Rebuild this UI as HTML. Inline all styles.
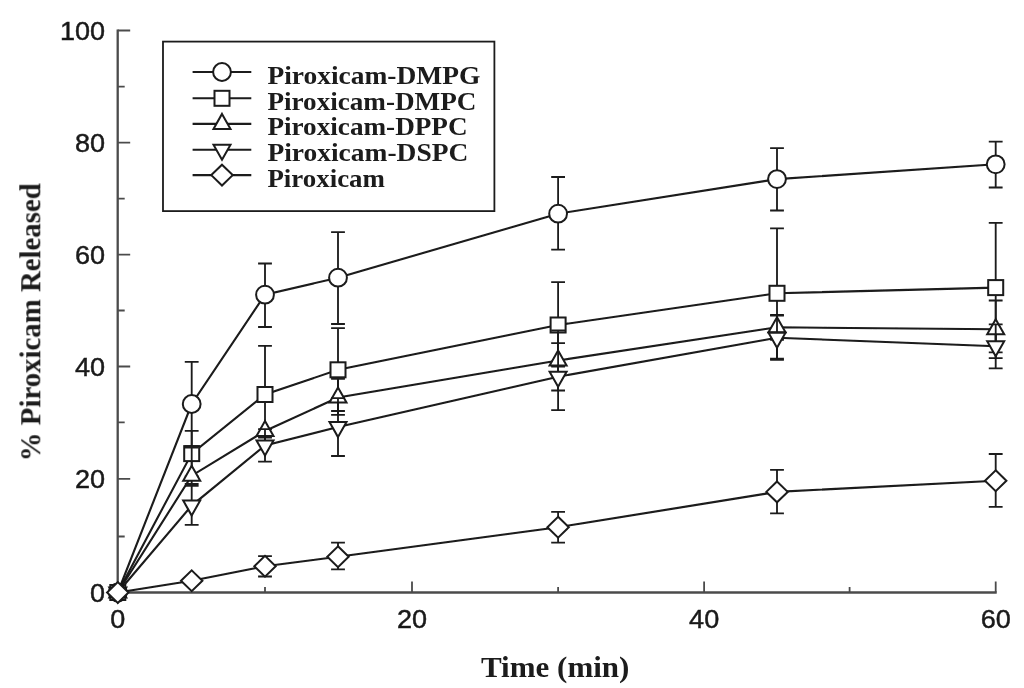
<!DOCTYPE html>
<html lang="en">
<head>
<meta charset="utf-8">
<title>Piroxicam release</title>
<style>
html,body{margin:0;padding:0;background:#fff;}
body{width:1024px;height:688px;overflow:hidden;}
svg{display:block;}
</style>
</head>
<body>
<svg width="1024" height="688" viewBox="0 0 1024 688">
<defs><filter id="scan" x="-2%" y="-2%" width="104%" height="104%"><feGaussianBlur stdDeviation="0.7"/></filter></defs>
<rect x="0" y="0" width="1024" height="688" fill="#ffffff"/>
<g filter="url(#scan)">
<g id="chart" fill="none" stroke="#1a1a1a" stroke-width="1.6" stroke-linecap="butt" stroke-linejoin="miter">
<path d="M117.7 29.5 V592.5 H996.7" stroke-width="2.3" stroke="#4c4c4c"/>
<path d="M117.7 536.5 h7 M117.7 478.8 h12.5 M117.7 422.4 h7 M117.7 366.5 h12.5 M117.7 310.5 h7 M117.7 254.6 h12.5 M117.7 198.6 h7 M117.7 142.7 h12.5 M117.7 86.6 h7 M117.7 30.5 h12.5 " stroke-width="1.8" stroke="#4c4c4c"/>
<path d="M265.0 592.5 v-5.5 M412.0 592.5 v-11 M558.1 592.5 v-5.5 M704.1 592.5 v-11 M849.6 592.5 v-5.5 M995.7 592.5 v-11 " stroke-width="1.8" stroke="#4c4c4c"/>
<g class="s-circle">
<polyline points="117.8,592.5 191.7,404.0 265.0,294.7 338.0,277.7 558.1,213.7 777.0,179.1 995.7,164.3" stroke-width="2.1"/>
<path d="M191.7 361.9 V446.5 M184.8 361.9 h13.8 M184.8 446.5 h13.8 M265.0 263.5 V327.0 M258.1 263.5 h13.8 M258.1 327.0 h13.8 M338.0 232.1 V324.0 M331.1 232.1 h13.8 M331.1 324.0 h13.8 M558.1 177.0 V249.6 M551.2 177.0 h13.8 M551.2 249.6 h13.8 M777.0 148.1 V210.5 M770.1 148.1 h13.8 M770.1 210.5 h13.8 M995.7 141.6 V187.5 M988.8 141.6 h13.8 M988.8 187.5 h13.8 " stroke-width="1.8"/>
<g fill="#ffffff" stroke-width="2.0">
<ellipse cx="117.8" cy="592.5" rx="8.9" ry="8.9"/>
<ellipse cx="191.7" cy="404.0" rx="8.9" ry="8.9"/>
<ellipse cx="265.0" cy="294.7" rx="8.9" ry="8.9"/>
<ellipse cx="338.0" cy="277.7" rx="8.9" ry="8.9"/>
<ellipse cx="558.1" cy="213.7" rx="8.9" ry="8.9"/>
<ellipse cx="777.0" cy="179.1" rx="8.9" ry="8.9"/>
<ellipse cx="995.7" cy="164.3" rx="8.9" ry="8.9"/>
</g></g>
<g class="s-square">
<polyline points="117.8,592.5 191.7,453.6 265.0,394.5 338.0,369.8 558.1,325.0 777.0,293.3 995.7,287.6" stroke-width="2.1"/>
<path d="M191.7 430.9 V476.3 M184.8 430.9 h13.8 M184.8 476.3 h13.8 M265.0 345.8 V443.6 M258.1 345.8 h13.8 M258.1 443.6 h13.8 M338.0 328.2 V411.0 M331.1 328.2 h13.8 M331.1 411.0 h13.8 M558.1 282.1 V366.7 M551.2 282.1 h13.8 M551.2 366.7 h13.8 M777.0 228.3 V358.6 M770.1 228.3 h13.8 M770.1 358.6 h13.8 M995.7 222.8 V352.4 M988.8 222.8 h13.8 M988.8 352.4 h13.8 " stroke-width="1.8"/>
<g fill="#ffffff" stroke-width="2.0">
<rect x="110.3" y="585.0" width="15.00" height="15.0"/>
<rect x="184.2" y="446.1" width="15.00" height="15.0"/>
<rect x="257.5" y="387.0" width="15.00" height="15.0"/>
<rect x="330.5" y="362.3" width="15.00" height="15.0"/>
<rect x="550.6" y="317.5" width="15.00" height="15.0"/>
<rect x="769.5" y="285.8" width="15.00" height="15.0"/>
<rect x="988.2" y="280.1" width="15.00" height="15.0"/>
</g></g>
<g class="s-tri">
<polyline points="117.8,592.5 191.7,475.7 265.0,431.0 338.0,397.5 558.1,360.5 777.0,327.3 995.7,329.3" stroke-width="2.1"/>
<path d="M191.7 447.5 V484.0 M184.8 447.5 h13.8 M184.8 484.0 h13.8 M265.0 431.0 V437.6 M258.1 437.6 h13.8 M338.0 378.9 V414.8 M331.1 378.9 h13.8 M331.1 414.8 h13.8 M558.1 330.5 V390.5 M551.2 330.5 h13.8 M551.2 390.5 h13.8 M777.0 314.8 V339.8 M770.1 314.8 h13.8 M770.1 339.8 h13.8 M995.7 300.5 V358.2 M988.8 300.5 h13.8 M988.8 358.2 h13.8 " stroke-width="1.8"/>
<g fill="#ffffff" stroke-width="2.0">
<path d="M117.8 582.5 L126.3 597.5 H109.3 Z"/>
<path d="M191.7 465.7 L200.2 480.7 H183.2 Z"/>
<path d="M265.0 421.0 L273.5 436.0 H256.5 Z"/>
<path d="M338.0 387.5 L346.5 402.5 H329.5 Z"/>
<path d="M558.1 350.5 L566.6 365.5 H549.6 Z"/>
<path d="M777.0 317.3 L785.5 332.3 H768.5 Z"/>
<path d="M995.7 319.3 L1004.2 334.3 H987.2 Z"/>
</g></g>
<g class="s-inv">
<polyline points="117.8,592.5 191.7,505.6 265.0,445.4 338.0,427.1 558.1,376.7 777.0,337.7 995.7,346.3" stroke-width="2.1"/>
<path d="M191.7 485.9 V524.8 M184.8 485.9 h13.8 M184.8 524.8 h13.8 M265.0 429.2 V461.6 M258.1 429.2 h13.8 M258.1 461.6 h13.8 M338.0 398.2 V456.0 M331.1 398.2 h13.8 M331.1 456.0 h13.8 M558.1 343.2 V410.2 M551.2 343.2 h13.8 M551.2 410.2 h13.8 M777.0 315.6 V359.8 M770.1 315.6 h13.8 M770.1 359.8 h13.8 M995.7 324.3 V368.4 M988.8 324.3 h13.8 M988.8 368.4 h13.8 " stroke-width="1.8"/>
<g fill="#ffffff" stroke-width="2.0">
<path d="M117.8 602.5 L126.3 587.5 H109.3 Z"/>
<path d="M191.7 515.6 L200.2 500.6 H183.2 Z"/>
<path d="M265.0 455.4 L273.5 440.4 H256.5 Z"/>
<path d="M338.0 437.1 L346.5 422.1 H329.5 Z"/>
<path d="M558.1 386.7 L566.6 371.7 H549.6 Z"/>
<path d="M777.0 347.7 L785.5 332.7 H768.5 Z"/>
<path d="M995.7 356.3 L1004.2 341.3 H987.2 Z"/>
</g></g>
<g class="s-dia">
<polyline points="117.8,592.5 191.7,580.8 265.0,566.3 338.0,556.7 558.1,527.2 777.0,491.9 995.7,480.7" stroke-width="2.1"/>
<path d="M265.0 556.2 V576.5 M258.1 556.2 h13.8 M258.1 576.5 h13.8 M338.0 542.7 V569.4 M331.1 542.7 h13.8 M331.1 569.4 h13.8 M558.1 511.9 V542.6 M551.2 511.9 h13.8 M551.2 542.6 h13.8 M777.0 469.9 V513.4 M770.1 469.9 h13.8 M770.1 513.4 h13.8 M995.7 454.0 V506.8 M988.8 454.0 h13.8 M988.8 506.8 h13.8 " stroke-width="1.8"/>
<g fill="#ffffff" stroke-width="2.0">
<path d="M117.8 582.1 L128.5 592.5 L117.8 602.9 L107.1 592.5 Z"/>
<path d="M191.7 570.4 L202.4 580.8 L191.7 591.2 L181.0 580.8 Z"/>
<path d="M265.0 555.9 L275.7 566.3 L265.0 576.7 L254.3 566.3 Z"/>
<path d="M338.0 546.3 L348.7 556.7 L338.0 567.1 L327.3 556.7 Z"/>
<path d="M558.1 516.8 L568.8 527.2 L558.1 537.6 L547.4 527.2 Z"/>
<path d="M777.0 481.5 L787.7 491.9 L777.0 502.3 L766.3 491.9 Z"/>
<path d="M995.7 470.3 L1006.4 480.7 L995.7 491.1 L985.0 480.7 Z"/>
</g></g>
<rect x="163" y="41.6" width="331.4" height="169.5" stroke-width="1.8" fill="#ffffff"/>
<path d="M192.6 72.0 H251.3" stroke-width="2.1"/>
<g fill="#ffffff" stroke-width="2.0">
<ellipse cx="222.0" cy="72.0" rx="8.9" ry="8.9"/>
</g>
<path d="M192.6 98.3 H251.3" stroke-width="2.1"/>
<g fill="#ffffff" stroke-width="2.0">
<rect x="214.5" y="90.8" width="15.00" height="15.0"/>
</g>
<path d="M192.6 123.9 H251.3" stroke-width="2.1"/>
<g fill="#ffffff" stroke-width="2.0">
<path d="M222.0 113.9 L230.5 128.9 H213.5 Z"/>
</g>
<path d="M192.6 149.8 H251.3" stroke-width="2.1"/>
<g fill="#ffffff" stroke-width="2.0">
<path d="M222.0 159.8 L230.5 144.8 H213.5 Z"/>
</g>
<path d="M192.6 175.1 H251.3" stroke-width="2.1"/>
<g fill="#ffffff" stroke-width="2.0">
<path d="M222.0 164.7 L232.7 175.1 L222.0 185.5 L211.3 175.1 Z"/>
</g>
</g>
<g fill="#1a1a1a" stroke="#1a1a1a" stroke-width="0.45" font-family="'Liberation Sans', Arial, Helvetica, sans-serif" font-size="25.5px">
<text x="90.0" y="601.6" textLength="15.0" lengthAdjust="spacingAndGlyphs">0</text>
<text x="74.9" y="487.9" textLength="30.1" lengthAdjust="spacingAndGlyphs">20</text>
<text x="74.9" y="375.6" textLength="30.1" lengthAdjust="spacingAndGlyphs">40</text>
<text x="74.9" y="263.7" textLength="30.1" lengthAdjust="spacingAndGlyphs">60</text>
<text x="74.9" y="151.8" textLength="30.1" lengthAdjust="spacingAndGlyphs">80</text>
<text x="59.9" y="39.6" textLength="45.1" lengthAdjust="spacingAndGlyphs">100</text>
<text x="110.3" y="628.0" textLength="15.0" lengthAdjust="spacingAndGlyphs">0</text>
<text x="397.0" y="628.0" textLength="30.1" lengthAdjust="spacingAndGlyphs">20</text>
<text x="689.1" y="628.0" textLength="30.1" lengthAdjust="spacingAndGlyphs">40</text>
<text x="980.7" y="628.0" textLength="30.1" lengthAdjust="spacingAndGlyphs">60</text>
</g>
<g fill="#1a1a1a" stroke="none" font-family="'Liberation Serif', 'Times New Roman', serif" font-weight="bold">
<text class="leg" x="267.4" y="83.6" font-size="25px" textLength="213.0" lengthAdjust="spacingAndGlyphs">Piroxicam-DMPG</text>
<text class="leg" x="267.4" y="109.6" font-size="25px" textLength="209.0" lengthAdjust="spacingAndGlyphs">Piroxicam-DMPC</text>
<text class="leg" x="267.4" y="135.4" font-size="25px" textLength="200.2" lengthAdjust="spacingAndGlyphs">Piroxicam-DPPC</text>
<text class="leg" x="267.4" y="161.3" font-size="25px" textLength="200.9" lengthAdjust="spacingAndGlyphs">Piroxicam-DSPC</text>
<text class="leg" x="267.4" y="187.0" font-size="25px" textLength="117.6" lengthAdjust="spacingAndGlyphs">Piroxicam</text>
<text id="xl" x="481" y="677.3" font-size="28.6px" textLength="148.4" lengthAdjust="spacingAndGlyphs">Time (min)</text>
<text id="yl" transform="translate(40.3 461.3) rotate(-90)" font-size="28.6px" textLength="278" lengthAdjust="spacingAndGlyphs">% Piroxicam Released</text>
</g>
</g>
</svg>
</body>
</html>
